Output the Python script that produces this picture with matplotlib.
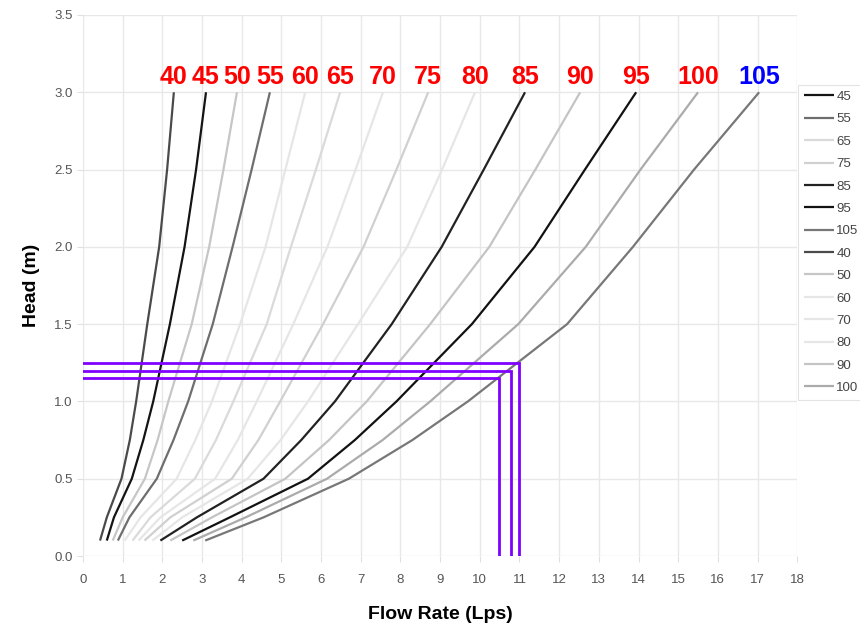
import matplotlib
matplotlib.use("Agg")
import matplotlib.pyplot as plt

plt.rcParams['font.family'] = ['Liberation Sans', 'DejaVu Sans']

head = [0.1, 0.25, 0.5, 0.75, 1.0, 1.5, 2.0, 2.5, 3.0]

flow = {
    40:  [0.43, 0.60, 0.97, 1.18, 1.34, 1.62, 1.92, 2.12, 2.29],
    45:  [0.60, 0.78, 1.23, 1.52, 1.77, 2.19, 2.56, 2.85, 3.10],
    50:  [0.75, 1.00, 1.56, 1.88, 2.15, 2.74, 3.18, 3.54, 3.88],
    55:  [0.88, 1.17, 1.86, 2.28, 2.65, 3.27, 3.77, 4.25, 4.71],
    60:  [1.05, 1.45, 2.36, 2.83, 3.25, 3.96, 4.60, 5.10, 5.60],
    65:  [1.25, 1.70, 2.82, 3.35, 3.79, 4.63, 5.24, 5.87, 6.48],
    70:  [1.40, 1.95, 3.33, 3.90, 4.38, 5.30, 6.16, 6.87, 7.56],
    75:  [1.55, 2.20, 3.75, 4.42, 4.97, 6.05, 7.07, 7.90, 8.70],
    80:  [1.75, 2.50, 4.15, 4.98, 5.67, 6.93, 8.17, 9.05, 9.88],
    85:  [1.95, 2.87, 4.55, 5.50, 6.35, 7.78, 9.04, 10.10, 11.14],
    90:  [2.20, 3.25, 5.10, 6.20, 7.15, 8.75, 10.24, 11.40, 12.53],
    95:  [2.50, 3.70, 5.67, 6.85, 7.90, 9.80, 11.38, 12.65, 13.94],
    100: [2.78, 4.10, 6.15, 7.55, 8.75, 10.97, 12.67, 14.05, 15.50],
    105: [3.08, 4.55, 6.70, 8.30, 9.70, 12.20, 13.86, 15.40, 17.04],
}

legend_order = [45, 55, 65, 75, 85, 95, 105, 40, 50, 60, 70, 80, 90, 100]

colors = {
    40: '#4a4a4a', 45: '#141414', 50: '#c6c6c6', 55: '#6e6e6e',
    60: '#e6e6e6', 65: '#dadada', 70: '#e6e6e6', 75: '#d0d0d0',
    80: '#e6e6e6', 85: '#222222', 90: '#c4c4c4', 95: '#121212',
    100: '#ababab', 105: '#777777',
}

# operating points (flow, head) marked in purple
op_flow = [10.49, 10.78, 10.99]
op_head = [1.15, 1.20, 1.25]

fig = plt.figure(figsize=(8.6, 6.35), dpi=100)
ax = fig.add_axes([0.0965, 0.1244, 0.8305, 0.852])

for k in legend_order:
    ax.plot(flow[k], head, color=colors[k], lw=1.6, label=str(k),
            solid_capstyle='butt', solid_joinstyle='round', zorder=3)

for k in sorted(flow):
    ax.text(flow[k][-1], 3.02, str(k), color='blue' if k == 105 else 'red',
            fontsize=18, fontweight='bold', ha='center', va='bottom', zorder=5)

for q, h in zip(op_flow, op_head):
    ax.plot([0, q, q], [h, h, 0], color='#8000ff', lw=2.0, zorder=4,
            solid_joinstyle='miter')

ax.set_xlim(0, 18)
ax.set_ylim(0, 3.5)
ax.set_xticks(range(0, 19))
ax.set_yticks([0, 0.5, 1.0, 1.5, 2.0, 2.5, 3.0, 3.5])
ax.set_yticklabels(['0.0', '0.5', '1.0', '1.5', '2.0', '2.5', '3.0', '3.5'])
ax.grid(True, color='#e8e8e8', lw=1.0, zorder=0)
ax.set_axisbelow(True)
for s in ax.spines.values():
    s.set_visible(False)
ax.tick_params(axis='both', colors='#e0e0e0', labelcolor='#555555',
               labelsize=9.5, length=4)
ax.tick_params(axis='x', pad=9)

ax.set_xlabel('Flow Rate (Lps)', fontsize=14, fontweight='bold', labelpad=14)
ax.set_ylabel('Head (m)', fontsize=14, fontweight='bold', labelpad=10)

leg = ax.legend(loc='upper left', bbox_to_anchor=(1.001, 0.871), frameon=True,
                fontsize=9.5, handlelength=2.3, handletextpad=0.15,
                labelspacing=0.77, borderpad=0.45, borderaxespad=0.0,
                fancybox=False)
leg.get_frame().set_edgecolor('#dddddd')
leg.get_frame().set_linewidth(0.8)
for t in leg.get_texts():
    t.set_color('#444444')

fig.savefig('out.png', dpi=100)
